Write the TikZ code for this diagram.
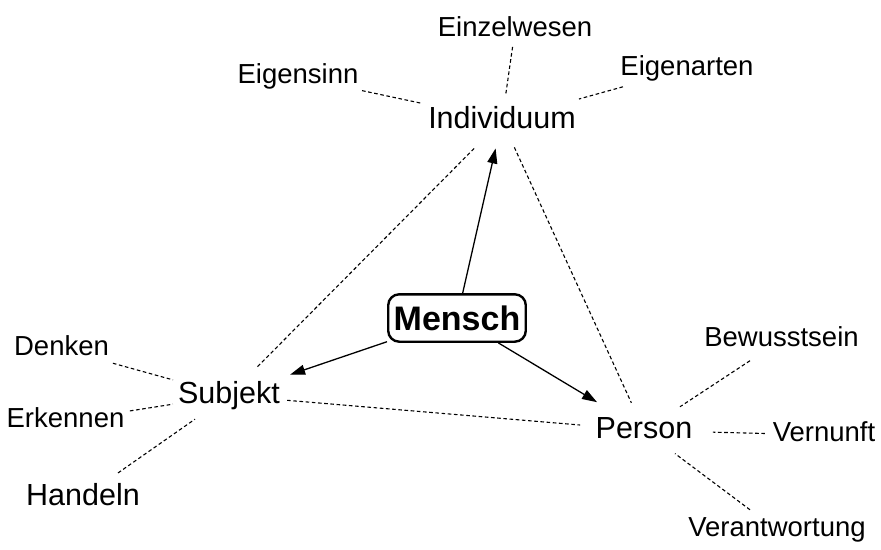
\documentclass[tikz,border=0pt]{standalone}
\usepackage{fontspec}
\setmainfont{Liberation Sans}
\usetikzlibrary{arrows.meta,calc}

\tikzset{
  sub/.style={inner sep=0pt, text height=20.6pt, text depth=6.9pt,
    font=\fontsize{27.5}{30}\selectfont},
  concept/.style={inner sep=0pt, text height=22.9pt, text depth=7.6pt,
    font=\fontsize{30.5}{33}\selectfont},
  core/.style={draw, line width=2.4pt, rounded corners=11pt,
    inner xsep=5.5pt, inner ysep=11.5pt, text height=24.4pt, text depth=0pt,
    font=\bfseries\fontsize{34}{36}\selectfont},
  link/.style={line width=1.1pt, dash pattern=on 3.6pt off 2.6pt},
  arr/.style={line width=1.3pt, -{Triangle[length=15pt,width=10pt]}},
}

\begin{document}
\begin{tikzpicture}[x=1pt,y=-1pt]
\useasboundingbox (0,0) rectangle (881,549);

% the three aspects of "Mensch"
\node[core]    (mensch) at (457,318)   {Mensch};
\node[concept] (indiv)  at (502,120.4) {Individuum};
\node[concept] (subj)   at (229,395.4) {Subjekt};
\node[concept] (pers)   at (644,430.4) {Person};

% terms around Individuum
\node[sub] (einzel)  at (515,30)  {Einzelwesen};
\node[sub] (eigsinn) at (298,77)  {Eigensinn};
\node[sub] (eigart)  at (687,69)  {Eigenarten};

% terms around Subjekt
\node[sub]     (denken)   at (61.5,349) {Denken};
\node[sub]     (erkennen) at (65.5,421) {Erkennen};
\node[concept] (handeln)  at (83,497.4) {Handeln};

% terms around Person
\node[sub] (bewusst)  at (781.5,340) {Bewusstsein};
\node[sub] (vernunft) at (824,435)   {Vernunft};
\node[sub] (verantw)  at (777,530)   {Verantwortung};

% arrows from the centre
\draw[arr] (mensch) -- ($(mensch)!0.858!(indiv)$);
\draw[arr] (mensch) -- ($(mensch)!0.732!(subj)$);
\draw[arr] (mensch) -- ($(mensch)!0.749!(pers)$);

% dashed triangle between the aspects
\draw[link] ($(indiv)!0.102!(subj)$) -- ($(indiv)!0.9!(subj)$);
\draw[link] ($(indiv)!0.087!(pers)$) -- ($(indiv)!0.911!(pers)$);
\draw[link] ($(subj)!0.14!(pers)$) -- ($(subj)!0.846!(pers)$);

% dashed links to the associated terms
\draw[link] ($(eigsinn)!0.314!(indiv)$) -- ($(eigsinn)!0.603!(indiv)$);
\draw[link] ($(einzel)!0.187!(indiv)$) -- ($(einzel)!0.714!(indiv)$);
\draw[link] ($(eigart)!0.346!(indiv)$) -- ($(eigart)!0.584!(indiv)$);

\draw[link] ($(denken)!0.307!(subj)$) -- ($(denken)!0.666!(subj)$);
\draw[link] ($(erkennen)!0.394!(subj)$) -- ($(erkennen)!0.657!(subj)$);
\draw[link] ($(handeln)!0.24!(subj)$) -- ($(handeln)!0.767!(subj)$);

\draw[link] ($(bewusst)!0.229!(pers)$) -- ($(bewusst)!0.738!(pers)$);
\draw[link] ($(vernunft)!0.328!(pers)$) -- ($(vernunft)!0.617!(pers)$);
\draw[link] ($(verantw)!0.203!(pers)$) -- ($(verantw)!0.767!(pers)$);
\end{tikzpicture}
\end{document}
